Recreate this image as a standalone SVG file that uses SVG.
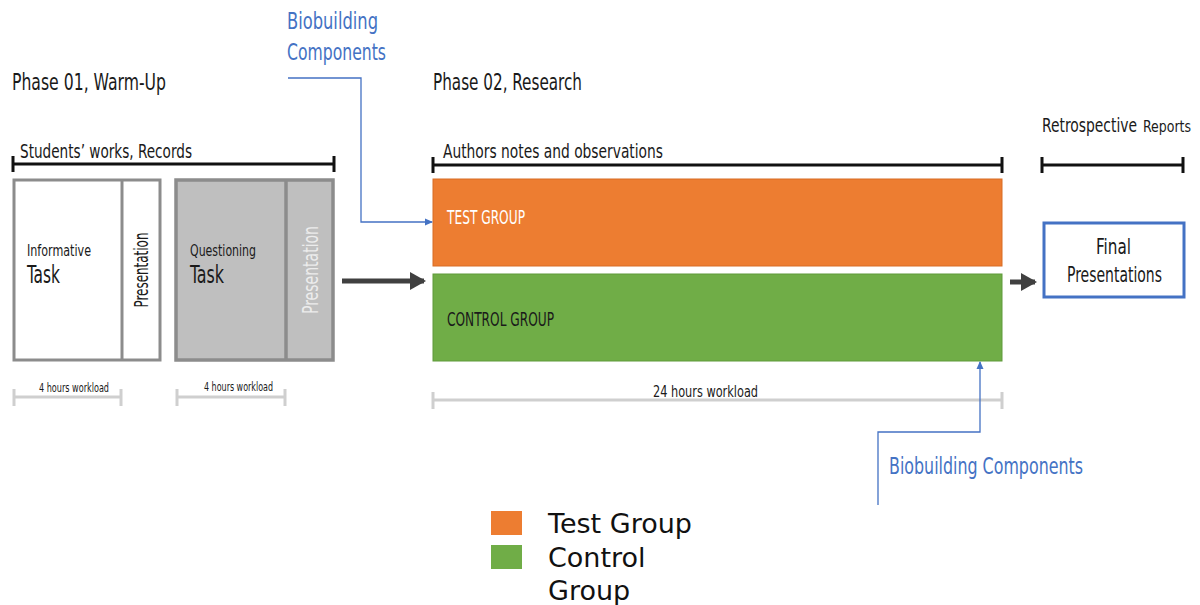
<svg xmlns="http://www.w3.org/2000/svg" width="1200" height="605" viewBox="0 0 1200 605">
  <defs>
    <style>
      .t { font-family: "Liberation Sans Narrow", "DejaVu Sans Condensed", "Open Sans", sans-serif; fill: #1a1a1a; }
      .blue { fill: #4472c4; }
      .bracket { stroke: #111; stroke-width: 3; fill: none; }
      .wl { stroke: #cfcfcf; stroke-width: 3; fill: none; }
      .conn { stroke: #4472c4; stroke-width: 1.3; fill: none; }
      .flow { stroke: #404040; stroke-width: 5; fill: none; }
      .legend { font-family: "DejaVu Sans", Verdana, sans-serif; font-size: 27px; fill: #111; }
    </style>
    <marker id="blueHead" markerWidth="8" markerHeight="8" refX="7" refY="4" orient="auto" markerUnits="userSpaceOnUse">
      <path d="M0,0.5 L8,4 L0,7.5 Z" fill="#4472c4"/>
    </marker>
    <marker id="darkHead" markerWidth="18" markerHeight="18" refX="14" refY="9" orient="auto" markerUnits="userSpaceOnUse">
      <path d="M0,0 L16,9 L0,18 Z" fill="#404040"/>
    </marker>
  </defs>
  <rect width="1200" height="605" fill="#ffffff"/>

  <!-- phase headings -->
  <text class="t" x="12" y="90" font-size="23" textLength="154" lengthAdjust="spacingAndGlyphs">Phase 01, Warm-Up</text>
  <text class="t" x="433" y="90" font-size="23" textLength="149" lengthAdjust="spacingAndGlyphs">Phase 02, Research</text>

  <!-- timeline brackets -->
  <g id="bracket-students">
    <path class="bracket" d="M13,164 H334 M13,156 V172 M334,156 V172"/>
    <text class="t" x="20" y="158" font-size="20" textLength="172" lengthAdjust="spacingAndGlyphs">Students’ works, Records</text>
  </g>
  <g id="bracket-authors">
    <path class="bracket" d="M433,165 H1002 M433,157 V173 M1002,157 V173"/>
    <text class="t" x="443" y="158" font-size="20" textLength="220" lengthAdjust="spacingAndGlyphs">Authors notes and observations</text>
  </g>
  <g id="bracket-retro">
    <path class="bracket" d="M1042,165 H1183 M1042,157 V173 M1183,157 V173"/>
    <text class="t" x="1042" y="132" font-size="20"><tspan textLength="95" lengthAdjust="spacingAndGlyphs">Retrospective</tspan><tspan x="1143" font-size="16" textLength="48" lengthAdjust="spacingAndGlyphs">Reports</tspan></text>
  </g>

  <!-- phase 01 tasks -->
  <g id="informative-task">
    <rect x="14" y="180" width="146" height="180" fill="#ffffff" stroke="#8c8c8c" stroke-width="3"/>
    <line x1="122" y1="180" x2="122" y2="360" stroke="#8c8c8c" stroke-width="3"/>
    <text class="t" x="27" y="256" font-size="15" textLength="64" lengthAdjust="spacingAndGlyphs">Informative</text>
    <text class="t" x="27" y="283" font-size="24" textLength="33" lengthAdjust="spacingAndGlyphs">Task</text>
    <text class="t" transform="translate(148,270) rotate(-90)" text-anchor="middle" font-size="19" textLength="75" lengthAdjust="spacingAndGlyphs">Presentation</text>
  </g>
  <g id="questioning-task">
    <rect x="176" y="180" width="157" height="180" fill="#bfbfbf" stroke="#8c8c8c" stroke-width="3.5"/>
    <line x1="286" y1="180" x2="286" y2="360" stroke="#8c8c8c" stroke-width="3.5"/>
    <text class="t" x="190" y="256" font-size="15" textLength="66" lengthAdjust="spacingAndGlyphs">Questioning</text>
    <text class="t" x="190" y="283" font-size="24" textLength="34" lengthAdjust="spacingAndGlyphs">Task</text>
    <text class="t" transform="translate(318,270) rotate(-90)" text-anchor="middle" font-size="21" textLength="88" lengthAdjust="spacingAndGlyphs" style="fill:#ececec">Presentation</text>
  </g>

  <!-- workload spans -->
  <g id="workload-informative">
    <path class="wl" d="M14,397 H121 M14,389 V406 M121,389 V406"/>
    <text class="t" x="39" y="392" font-size="13" textLength="70" lengthAdjust="spacingAndGlyphs">4 hours workload</text>
  </g>
  <g id="workload-questioning">
    <path class="wl" d="M177,397 H285 M177,389 V406 M285,389 V406"/>
    <text class="t" x="204" y="391" font-size="13" textLength="69" lengthAdjust="spacingAndGlyphs">4 hours workload</text>
  </g>
  <g id="workload-research">
    <path class="wl" d="M433,400 H1002 M433,392 V409 M1002,392 V409"/>
    <text class="t" x="653" y="397" font-size="16" textLength="105" lengthAdjust="spacingAndGlyphs">24  hours workload</text>
  </g>

  <!-- phase 02 groups -->
  <g id="test-group">
    <rect x="433" y="179" width="569" height="87" fill="#ed7d31" stroke="#d86c25" stroke-width="1"/>
    <text class="t" x="447" y="224" font-size="19" textLength="78" lengthAdjust="spacingAndGlyphs" style="fill:#ffffff">TEST  GROUP</text>
  </g>
  <g id="control-group">
    <rect x="433" y="274" width="569" height="87" fill="#70ad47" stroke="#5f9a3a" stroke-width="1"/>
    <text class="t" x="447" y="326" font-size="19" textLength="107" lengthAdjust="spacingAndGlyphs">CONTROL  GROUP</text>
  </g>

  <!-- retrospective -->
  <g id="final-presentations">
    <rect x="1044" y="223" width="140" height="74" fill="#ffffff" stroke="#4472c4" stroke-width="3"/>
    <text class="t" x="1096" y="254" font-size="21" textLength="35" lengthAdjust="spacingAndGlyphs">Final</text>
    <text class="t" x="1067" y="282" font-size="21" textLength="95" lengthAdjust="spacingAndGlyphs">Presentations</text>
  </g>

  <!-- annotation labels -->
  <g id="biobuilding-top">
    <text class="t blue" x="287" y="29" font-size="23" textLength="91" lengthAdjust="spacingAndGlyphs">Biobuilding</text>
    <text class="t blue" x="287" y="60" font-size="23" textLength="99" lengthAdjust="spacingAndGlyphs">Components</text>
  </g>
  <g id="biobuilding-bottom">
    <text class="t blue" x="889" y="474" font-size="23" textLength="194" lengthAdjust="spacingAndGlyphs">Biobuilding Components</text>
  </g>

  <!-- connectors -->
  <g id="connectors">
    <path class="flow" d="M342,281 H424" marker-end="url(#darkHead)"/>
    <path class="flow" d="M1010,282 H1035" marker-end="url(#darkHead)"/>
    <path class="conn" d="M288,78 H361 V222 H432" marker-end="url(#blueHead)"/>
    <path class="conn" d="M878,505 V432 H980 V362" marker-end="url(#blueHead)"/>
  </g>

  <!-- legend -->
  <g id="legend">
    <rect x="491" y="511" width="31" height="24" fill="#ed7d31"/>
    <rect x="491" y="545" width="31" height="24" fill="#70ad47"/>
    <text class="legend" x="548" y="533">Test Group</text>
    <text class="legend" x="548" y="567">Control</text>
    <text class="legend" x="548" y="600">Group</text>
  </g>
</svg>
